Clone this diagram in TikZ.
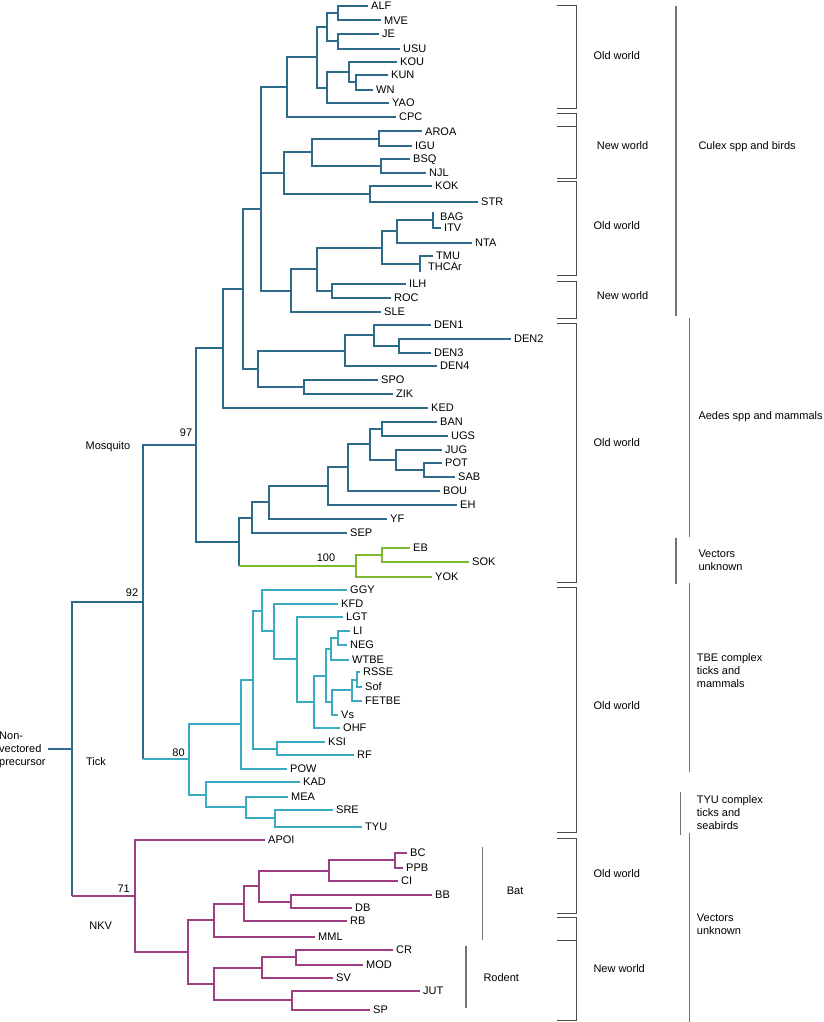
\documentclass[tikz,border=0pt]{standalone}
\usepackage{fontspec}
\setmainfont{Liberation Sans}
\usepackage{xcolor}
\definecolor{mosblue}{HTML}{2E6A8A}
\definecolor{tickcyan}{HTML}{3AABC0}
\definecolor{unkgreen}{HTML}{7DB82F}
\definecolor{nkvpurple}{HTML}{A03E83}

\begin{document}
\begin{tikzpicture}[x=1pt, y=-1pt, font=\fontsize{11}{13}\selectfont,
  mos/.style={draw=mosblue, line width=2pt},
  tck/.style={draw=tickcyan, line width=2pt},
  unk/.style={draw=unkgreen, line width=2pt},
  nkv/.style={draw=nkvpurple, line width=2pt},
  leaf/.style={anchor=west, inner xsep=3pt, inner ysep=1pt, text height=7.9pt, text depth=0pt},
  txt/.style={inner sep=0pt, text height=7.9pt, text depth=0pt},
  note/.style={anchor=west, inner sep=0pt, text height=7.9pt, text depth=0pt},
  notes/.style={anchor=west, inner sep=0pt, align=left},
  bracket/.style={draw=black!70, line width=1pt},
  bar/.style={draw=black!55, line width=1.3pt}]
  \useasboundingbox (0,0) rectangle (823,1022);

  % Leaves
  \foreach \n/\x/\y in {ALF/368/6, MVE/381/20.5, JE/379/34, USU/400/49, KOU/397/62,
    KUN/388/75, WN/373/90, YAO/389/103, CPC/396/117, AROA/422/131.5, IGU/412/145.5,
    BSQ/410/158.5, NJL/426/172.5, KOK/432/186, STR/478/201.5, ITV/441/228,
    NTA/472/242.5, TMU/433/256, ILH/406/283.5, ROC/391/298, SLE/381/312,
    DEN1/431/324.5, DEN2/511/338.5, DEN3/431/352.5, DEN4/437/366, SPO/378/380,
    ZIK/393/393.5, KED/428/408, BAN/437/422, UGS/448/436, JUG/442/449.5,
    POT/442/463, SAB/455/476.5, BOU/440/490.5, EH/457/504.5, YF/387/518.5,
    SEP/347/533, EB/410/547.5, SOK/469/561.5, YOK/432/576.5,
    GGY/347/589.5, KFD/338/603.5, LGT/343/617, LI/350/631, NEG/347/644.5,
    WTBE/349/660, RSSE/360/672, Sof/362/687, FETBE/362/701, Vs/338/714.5,
    OHF/340/728, KSI/325/742, RF/354/755, POW/287/768.5, KAD/300/782,
    MEA/288/796.5, SRE/333/810, TYU/362/826.5,
    APOI/265/840, BC/407/853, PPB/403/867.5, CI/398/881, BB/432/895,
    DB/352/908, RB/347/921, MML/315/936.5, CR/393/950, MOD/363/964.5,
    SV/333/978, JUT/420/990.5, SP/370/1009.5}
    \node[leaf] (\n) at (\x,\y) {\n};
  \node[leaf] (BAG) at (437,217) {BAG};
  \node[leaf] (THCAr) at (425,267) {THCAr};
  \coordinate (BAGtip) at (433,212);
  \coordinate (THCtip) at (420,271.5);

  % Inner nodes, mosquito
  \coordinate (a1) at (338,13.25);
  \coordinate (a2) at (338,41.5);
  \coordinate (a3) at (327,27.4);
  \coordinate (a4) at (356,82.5);
  \coordinate (a5) at (349,72.25);
  \coordinate (a6) at (327,87.6);
  \coordinate (a7) at (317,57.5);
  \coordinate (a8) at (287,87.25);
  \coordinate (b1) at (379,138.5);
  \coordinate (b2) at (381,165.5);
  \coordinate (b3) at (312,152);
  \coordinate (b4) at (370,193.75);
  \coordinate (b5) at (284,172.9);
  \coordinate (c1) at (433,220);
  \coordinate (c2) at (420,263.75);
  \coordinate (c3) at (397,231.25);
  \coordinate (c4) at (382,247.5);
  \coordinate (c5) at (332,290.75);
  \coordinate (c6) at (317,269.1);
  \coordinate (c7) at (291,290.5);
  \coordinate (a9) at (261,208.5);
  \coordinate (d1) at (374,335);
  \coordinate (d2) at (399,345.5);
  \coordinate (d3) at (345,350.5);
  \coordinate (d4) at (304,386.75);
  \coordinate (d5) at (257.7,368.6);
  \coordinate (a10) at (243.3,288.5);
  \coordinate (a11) at (222.7,348.3);
  \coordinate (e1) at (382,429);
  \coordinate (e2) at (424,469.75);
  \coordinate (e3) at (396,459.6);
  \coordinate (e4) at (370,444.3);
  \coordinate (e5) at (348,467.4);
  \coordinate (e6) at (328,486);
  \coordinate (e7) at (268.7,502.25);
  \coordinate (e8) at (251.7,517.6);
  \coordinate (g1) at (381.7,554.5);
  \coordinate (g2) at (356,565.5);
  \coordinate (e9) at (239,541.5);
  \coordinate (a12) at (196,444.9);
  % Inner nodes, tick
  \coordinate (t1) at (338.3,637.75);
  \coordinate (t2) at (331,648.9);
  \coordinate (t3) at (357,679.5);
  \coordinate (t4) at (351.7,690.25);
  \coordinate (t5) at (331.7,702.4);
  \coordinate (t6) at (325.7,675.6);
  \coordinate (t7) at (314,701.8);
  \coordinate (t8) at (297.3,659.4);
  \coordinate (t9) at (274.3,631.45);
  \coordinate (t10) at (262.3,610.5);
  \coordinate (t11) at (277.3,748.5);
  \coordinate (t12) at (253.3,679.5);
  \coordinate (t13) at (241,724);
  \coordinate (u1) at (275.3,818.25);
  \coordinate (u2) at (246,807.4);
  \coordinate (u3) at (205.7,794.7);
  \coordinate (t14) at (189.3,759.35);
  \coordinate (m1) at (143.3,602);
  % Inner nodes, NKV
  \coordinate (k1) at (395,860.25);
  \coordinate (k2) at (329.3,870.6);
  \coordinate (k3) at (291,901.5);
  \coordinate (k4) at (259,886);
  \coordinate (k5) at (244.3,903.5);
  \coordinate (k6) at (214,920);
  \coordinate (k7) at (295.7,957.25);
  \coordinate (k8) at (261.7,967.6);
  \coordinate (k9) at (292.3,1000);
  \coordinate (k10) at (214,983.8);
  \coordinate (k11) at (188.3,951.9);
  \coordinate (k12) at (135,896);
  \coordinate (root) at (71.7,749);
  \coordinate (stub) at (47.7,749);

  % Mosquito branches
  \draw[mos] (ALF) -| (a1) |- (MVE);
  \draw[mos] (JE) -| (a2) |- (USU);
  \draw[mos] (a1) -| (a3) |- (a2);
  \draw[mos] (KUN) -| (a4) |- (WN);
  \draw[mos] (KOU) -| (a5) |- (a4);
  \draw[mos] (a5) -| (a6) |- (YAO);
  \draw[mos] (a3) -| (a7) |- (a6);
  \draw[mos] (a7) -| (a8) |- (CPC);
  \draw[mos] (AROA) -| (b1) |- (IGU);
  \draw[mos] (BSQ) -| (b2) |- (NJL);
  \draw[mos] (b1) -| (b3) |- (b2);
  \draw[mos] (KOK) -| (b4) |- (STR);
  \draw[mos] (b3) -| (b5) |- (b4);
  \draw[mos] (BAGtip) -- (c1) |- (ITV);
  \draw[mos] (TMU) -| (c2) -- (THCtip);
  \draw[mos] (c1) -| (c3) |- (NTA);
  \draw[mos] (c3) -| (c4) |- (c2);
  \draw[mos] (ILH) -| (c5) |- (ROC);
  \draw[mos] (c4) -| (c6) |- (c5);
  \draw[mos] (c6) -| (c7) |- (SLE);
  \draw[mos] (a8) -| (a9) |- (c7);
  \draw[mos] (a9) |- (b5);
  \draw[mos] (DEN2) -| (d2) |- (DEN3);
  \draw[mos] (DEN1) -| (d1) |- (d2);
  \draw[mos] (d1) -| (d3) |- (DEN4);
  \draw[mos] (SPO) -| (d4) |- (ZIK);
  \draw[mos] (d3) -| (d5) |- (d4);
  \draw[mos] (a9) -| (a10) |- (d5);
  \draw[mos] (a10) -| (a11) |- (KED);
  \draw[mos] (BAN) -| (e1) |- (UGS);
  \draw[mos] (POT) -| (e2) |- (SAB);
  \draw[mos] (JUG) -| (e3) |- (e2);
  \draw[mos] (e1) -| (e4) |- (e3);
  \draw[mos] (e4) -| (e5) |- (BOU);
  \draw[mos] (e5) -| (e6) |- (EH);
  \draw[mos] (e6) -| (e7) |- (YF);
  \draw[mos] (e7) -| (e8) |- (SEP);
  \draw[unk] (EB) -| (g1) |- (SOK);
  \draw[unk] (g1) -| (g2) |- (YOK);
  \draw[mos] (e8) -| (e9) -- (e9 |- g2);
  \draw[unk] (e9 |- g2) -- (g2);
  \draw[mos] (a11) -| (a12) |- (e9);

  % Tick branches
  \draw[tck] (LI) -| (t1) |- (NEG);
  \draw[tck] (t1) -| (t2) |- (WTBE);
  \draw[tck] (RSSE) -| (t3) |- (Sof);
  \draw[tck] (t3) -| (t4) |- (FETBE);
  \draw[tck] (t4) -| (t5) |- (Vs);
  \draw[tck] (t2) -| (t6) |- (t5);
  \draw[tck] (t6) -| (t7) |- (OHF);
  \draw[tck] (LGT) -| (t8) |- (t7);
  \draw[tck] (KFD) -| (t9) |- (t8);
  \draw[tck] (GGY) -| (t10) |- (t9);
  \draw[tck] (KSI) -| (t11) |- (RF);
  \draw[tck] (t10) -| (t12) |- (t11);
  \draw[tck] (t12) -| (t13) |- (POW);
  \draw[tck] (SRE) -| (u1) |- (TYU);
  \draw[tck] (MEA) -| (u2) |- (u1);
  \draw[tck] (KAD) -| (u3) |- (u2);
  \draw[tck] (t13) -| (t14) |- (u3);
  \draw[mos] (a12) -| (m1) -- (m1 |- t14);
  \draw[tck] (m1 |- t14) -- (t14);

  % NKV branches
  \draw[nkv] (BC) -| (k1) |- (PPB);
  \draw[nkv] (k1) -| (k2) |- (CI);
  \draw[nkv] (BB) -| (k3) |- (DB);
  \draw[nkv] (k2) -| (k4) |- (k3);
  \draw[nkv] (k4) -| (k5) |- (RB);
  \draw[nkv] (k5) -| (k6) |- (MML);
  \draw[nkv] (CR) -| (k7) |- (MOD);
  \draw[nkv] (k7) -| (k8) |- (SV);
  \draw[nkv] (JUT) -| (k9) |- (SP);
  \draw[nkv] (k8) -| (k10) |- (k9);
  \draw[nkv] (k6) -| (k11) |- (k10);
  \draw[nkv] (APOI) -| (k12) |- (k11);
  \draw[mos] (m1) -| (root) -- (root |- k12);
  \draw[nkv] (root |- k12) -- (k12);
  \draw[mos] (stub) -- (root);

  % Support values and group names
  \node[txt] (bs97) at (186,433) {97};
  \node[txt] (bs92) at (132,593) {92};
  \node[txt] (bs80) at (178.5,752.7) {80};
  \node[txt] (bs100) at (326,557.3) {100};
  \node[txt] (bs71) at (123.7,888.3) {71};
  \node[txt] (mosq) at (108,446) {Mosquito};
  \node[txt] (tick) at (96,761.7) {Tick};
  \node[txt] (nkvlbl) at (100.7,926) {NKV};
  \node[notes] (precursor) at (-1,750) {Non-\\vectored\\precursor};

  % Brackets
  \foreach \ya/\yb in {6/109, 113.3/178.3, 181.7/275, 281/318.3, 323.3/582.3,
    587.3/832.3, 838.3/913.3, 917.3/1020}
    \draw[bracket] (556.7,\ya) -| (576,\yb) -- (556.7,\yb);
  \draw[bracket] (556.7,126.7) -- (576,126.7);
  \draw[bracket] (556.7,940.7) -- (576,940.7);
  \node[note] (ow1) at (593.3,56) {Old world};
  \node[note] (nw1) at (596.7,145.3) {New world};
  \node[note] (ow2) at (593.3,225.3) {Old world};
  \node[note] (nw2) at (596.7,296) {New world};
  \node[note] (ow3) at (593.3,442.7) {Old world};
  \node[note] (ow4) at (593.3,705.3) {Old world};
  \node[note] (ow5) at (593.3,873.3) {Old world};
  \node[note] (nw3) at (593.3,969) {New world};

  % Host bars
  \draw[bar] (676,6) -- (676,316);
  \draw[bar] (689.3,318.3) -- (689.3,536.7);
  \draw[bar] (676,537.7) -- (676,584.3);
  \draw[bar] (689.3,583.3) -- (689.3,771.7);
  \draw[bar] (680.7,791.7) -- (680.7,835);
  \draw[bar] (689.3,833.3) -- (689.3,1022);
  \draw[bar] (482.7,847.3) -- (482.7,940);
  \draw[bar] (466,945.7) -- (466,1008.3);
  \node[note] (culex) at (698.3,145.3) {Culex spp and birds};
  \node[note] (aedes) at (698.3,416) {Aedes spp and mammals};
  \node[notes] (vu1) at (698.3,560) {Vectors\\unknown};
  \node[notes] (tbe) at (696.7,670.3) {TBE complex\\ticks and\\mammals};
  \node[notes] (tyu) at (696.7,812.3) {TYU complex\\ticks and\\seabirds};
  \node[notes] (vu2) at (696.7,924.2) {Vectors\\unknown};
  \node[note] (bat) at (506.7,891) {Bat};
  \node[note] (rodent) at (483.3,977.7) {Rodent};
\end{tikzpicture}
\end{document}
